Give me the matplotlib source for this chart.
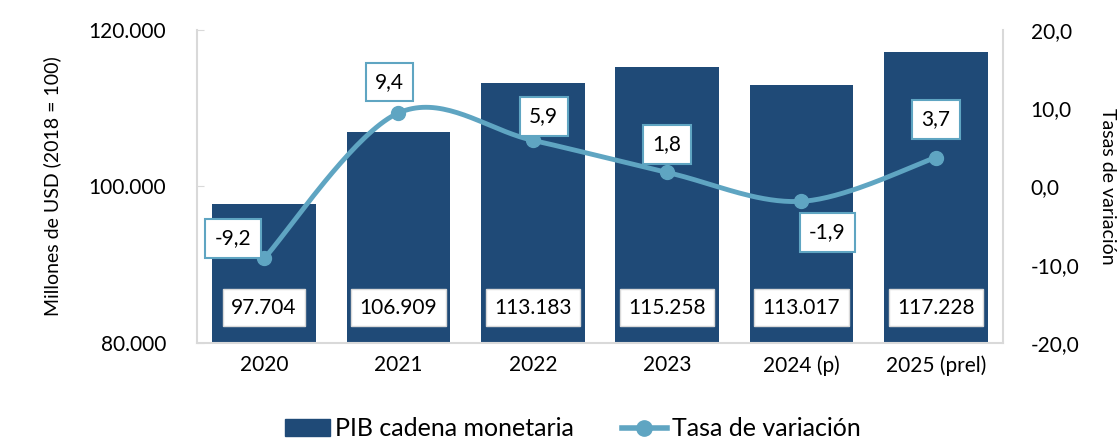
import numpy as np
import matplotlib
matplotlib.use("Agg")
import matplotlib.pyplot as plt
from matplotlib.lines import Line2D
from matplotlib.patches import Patch

plt.rcParams['font.family'] = ['Lato', 'DejaVu Sans']

# Data
years = ['2020', '2021', '2022', '2023', '2024 (p)', '2025 (prel)']
pib = [97704, 106909, 113183, 115258, 113017, 117228]
tasa = [-9.2, 9.4, 5.9, 1.8, -1.9, 3.7]
pib_labels = ['97.704', '106.909', '113.183', '115.258', '113.017', '117.228']
tasa_labels = ['-9,2', '9,4', '5,9', '1,8', '-1,9', '3,7']
left_ticks = [80000, 100000, 120000]
left_ticklabels = ['80.000', '100.000', '120.000']
right_ticks = [-20, -10, 0, 10, 20]
right_ticklabels = ['-20,0', '-10,0', '0,0', '10,0', '20,0']

bar_color = '#1F4A77'
line_color = '#5FA5C2'
spine_color = '#D9D9D9'
fs = 15


def smooth(x, y, steps=40):
    # Excel style smoothed line: cubic bezier through the points
    x = np.asarray(x, float)
    y = np.asarray(y, float)
    xs, ys = [], []
    n = len(x)
    for i in range(n - 1):
        p0 = np.array([x[max(i - 1, 0)], y[max(i - 1, 0)]])
        p1 = np.array([x[i], y[i]])
        p2 = np.array([x[i + 1], y[i + 1]])
        p3 = np.array([x[min(i + 2, n - 1)], y[min(i + 2, n - 1)]])
        c1 = p1 + (p2 - p0) / 6
        c2 = p2 - (p3 - p1) / 6
        t = np.linspace(0, 1, steps)[:, None]
        pts = ((1 - t) ** 3) * p1 + 3 * ((1 - t) ** 2) * t * c1 + 3 * (1 - t) * t ** 2 * c2 + t ** 3 * p2
        xs.extend(pts[:, 0])
        ys.extend(pts[:, 1])
    return np.array(xs), np.array(ys)


fig = plt.figure(figsize=(11.19, 4.46), dpi=100)
ax = fig.add_axes([0.176, 0.231, 0.7203, 0.7017])
x = np.arange(len(years))

ax.bar(x, pib, width=0.77, color=bar_color, zorder=2)
ax.set_ylim(80000, 120000)
ax.set_xlim(-0.5, len(years) - 0.5)
ax.set_yticks(left_ticks)
ax.set_yticklabels(left_ticklabels, fontsize=fs)
ax.set_xticks(x)
ax.set_xticklabels(years, fontsize=fs)
ax.tick_params(axis='x', length=0, pad=9)
ax.tick_params(axis='y', direction='in', length=5, color=spine_color, pad=22)
ax.set_ylabel('Millones de USD (2018 = 100)', fontsize=fs - 1, labelpad=20)

for s in ['left', 'bottom', 'right']:
    ax.spines[s].set_color(spine_color)
    ax.spines[s].set_linewidth(1.5)
ax.spines['top'].set_visible(False)

for xi, lab in zip(x, pib_labels):
    ax.text(xi, 84500, lab, ha='center', va='center', fontsize=fs, zorder=5,
            bbox=dict(boxstyle='square,pad=0.4', fc='white', ec=spine_color, lw=1))

ax2 = ax.twinx()
ax2.set_ylim(-20, 20)
ax2.set_yticks(right_ticks)
ax2.set_yticklabels(right_ticklabels, fontsize=fs)
ax2.tick_params(axis='y', length=0, pad=20)
ax2.set_ylabel('Tasas de variación', fontsize=fs - 1, rotation=270, labelpad=26)
for s in ['left', 'bottom', 'right', 'top']:
    ax2.spines[s].set_visible(False)

sx, sy = smooth(x, tasa)
ax2.plot(sx, sy, color=line_color, lw=3.5, zorder=3, solid_capstyle='round')
ax2.plot(x, tasa, 'o', color=line_color, ms=10, zorder=4)

offsets = [(-31, 20), (-9, 31), (11, 24), (0, 28), (26, -31), (0, 38)]
for xi, yi, lab, off in zip(x, tasa, tasa_labels, offsets):
    ax2.annotate(lab, (xi, yi), xytext=off, textcoords='offset pixels',
                 ha='center', va='center', fontsize=fs, zorder=6,
                 bbox=dict(boxstyle='square,pad=0.45', fc='white', ec=line_color, lw=1.5))

handles = [Patch(facecolor=bar_color, edgecolor=bar_color),
           Line2D([0], [0], color=line_color, lw=4, marker='o', ms=11)]
fig.legend(handles, ['PIB cadena monetaria', 'Tasa de variación'],
           loc='lower center', bbox_to_anchor=(0.512, -0.038), ncol=2, frameon=False,
           fontsize=18, handlelength=1.8, handletextpad=0.2, columnspacing=1.9)

fig.savefig('out.png', dpi=100)
